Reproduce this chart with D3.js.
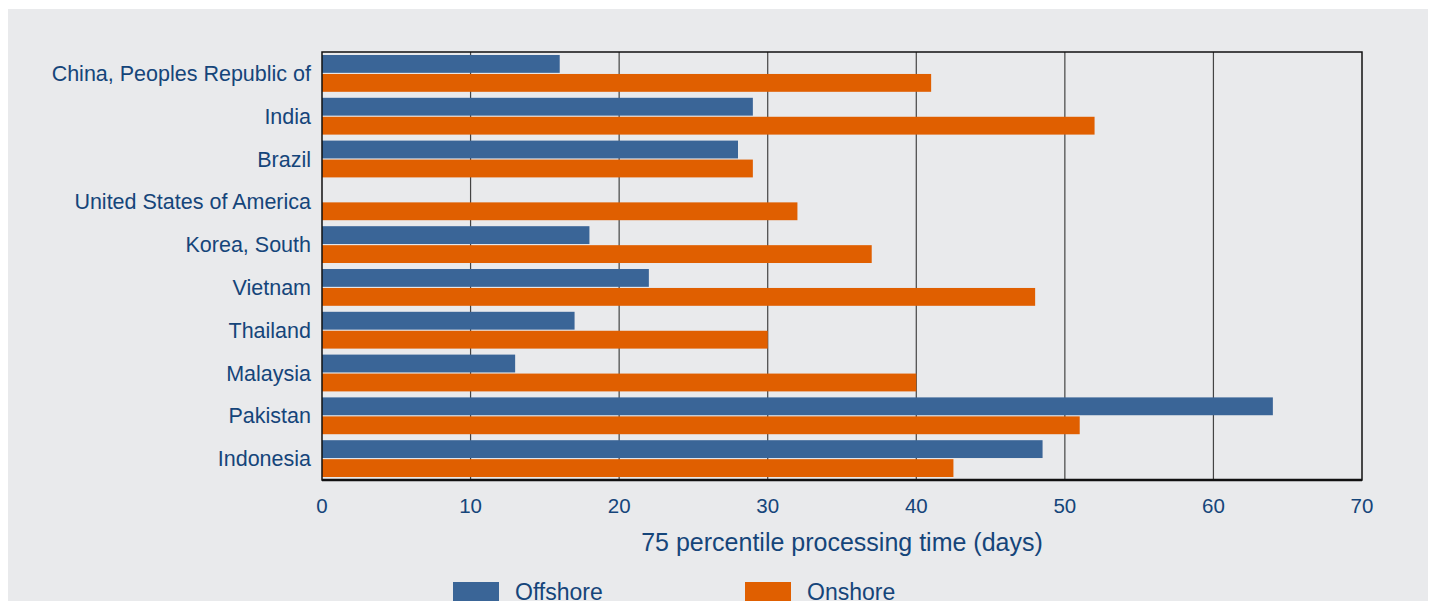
<!DOCTYPE html>
<html>
<head>
<meta charset="utf-8">
<script src="https://cdn.jsdelivr.net/npm/d3@7"></script>
<style>
  body { margin:0; background:#fff; }
  text { font-family: "Liberation Sans", Arial, sans-serif; fill:#15457a; }
</style>
</head>
<body>
<div id="chart"></div>
<script>
var countries = ["China, Peoples Republic of","India","Brazil","United States of America","Korea, South","Vietnam","Thailand","Malaysia","Pakistan","Indonesia"];
var offshore = [16, 29, 28, 0, 18, 22, 17, 13, 64, 48.5];
var onshore = [41, 52, 29, 32, 37, 48, 30, 40, 51, 42.5];
var seriesNames = ["Offshore","Onshore"];
var xTicks = [0,10,20,30,40,50,60,70];

var W = 1430, H = 601;
var margin = {top:52, bottom:121, left:322, right:68};
var width = W - margin.left - margin.right;
var height = H - margin.top - margin.bottom;
var colors = {Offshore:"#3a6597", Onshore:"#e05f00"};

var svg = d3.select("#chart").append("svg")
    .attr("width", W).attr("height", H);

svg.append("rect").attr("x", 8).attr("y", 9).attr("width", W - 10).attr("height", H - 9)
    .attr("fill", "#e9eaec");

var g = svg.append("g").attr("transform", "translate(" + margin.left + "," + margin.top + ")");

var x = d3.scaleLinear().domain([0,70]).range([0, width]);
var y = d3.scaleBand().domain(countries).range([0, height]).paddingInner(0.14).paddingOuter(0.07);
var ySub = d3.scaleBand().domain(seriesNames).range([0, y.bandwidth()]).paddingInner(0.06);

// grid
g.selectAll(".grid").data(xTicks.slice(1, -1)).enter().append("line")
    .attr("x1", d => x(d)).attr("x2", d => x(d))
    .attr("y1", 0).attr("y2", height)
    .attr("stroke", "#444").attr("stroke-width", 1.2);

var rows = countries.map((c, i) => ({c: c, vals: [
    {s:"Offshore", v: offshore[i]}, {s:"Onshore", v: onshore[i]}]}));

var rg = g.selectAll(".row").data(rows).enter().append("g")
    .attr("transform", d => "translate(0," + y(d.c) + ")");
rg.selectAll("rect").data(d => d.vals.filter(e => e.v > 0)).enter().append("rect")
    .attr("x", 0).attr("y", d => ySub(d.s))
    .attr("width", d => x(d.v)).attr("height", ySub.bandwidth())
    .attr("fill", d => colors[d.s]);

// frame
g.append("rect").attr("width", width).attr("height", height)
    .attr("fill", "none").attr("stroke", "#111").attr("stroke-width", 1.5);
g.append("line").attr("x1", 0).attr("x2", width).attr("y1", height).attr("y2", height)
    .attr("stroke", "#111").attr("stroke-width", 2.5);

// y labels
g.selectAll(".ylab").data(countries).enter().append("text")
    .attr("x", -11).attr("y", d => y(d) + y.bandwidth() / 2)
    .attr("dy", "0.35em").attr("text-anchor", "end")
    .style("font-size", "21.5px").text(d => d);

// x ticks
g.selectAll(".xlab").data(xTicks).enter().append("text")
    .attr("x", d => x(d)).attr("y", height + 33)
    .attr("text-anchor", "middle").style("font-size", "20.5px").text(d => d);

g.append("text").attr("x", 520).attr("y", height + 71)
    .attr("text-anchor", "middle").style("font-size", "25px")
    .text("75 percentile processing time (days)");

// legend
var legX = [453, 745];
seriesNames.forEach(function(s, i) {
    svg.append("rect").attr("x", legX[i]).attr("y", 582).attr("width", 46).attr("height", 22)
        .attr("fill", colors[s]);
    svg.append("text").attr("x", legX[i] + 62).attr("y", 600)
        .style("font-size", "23px").text(s);
});
</script>
</body>
</html>
